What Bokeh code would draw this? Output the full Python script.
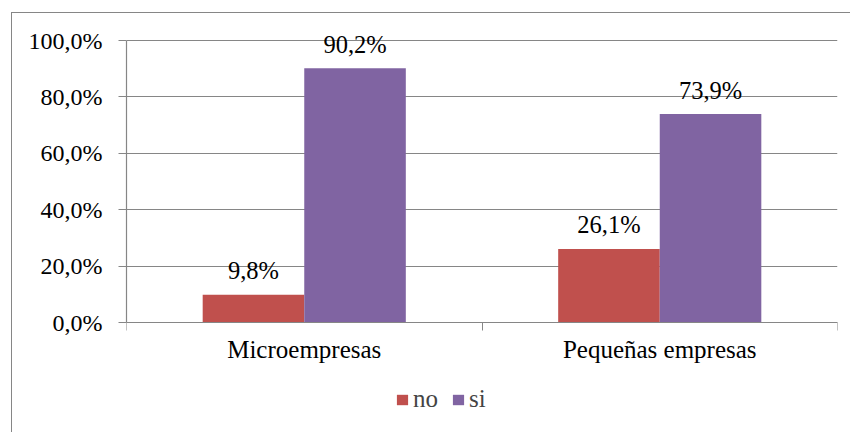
from bokeh.plotting import figure
from bokeh.models import (ColumnDataSource, FixedTicker, Legend, LegendItem,
                          Range1d, InlineStyleSheet)
from bokeh.core.properties import value
from bokeh.embed import file_html
from bokeh.resources import INLINE

categories = ["Microempresas", "Pequeñas empresas"]
series_names = ["no", "si"]
no_values = [9.8, 26.1]
si_values = [90.2, 73.9]
colors = ["#C0504D", "#8064A2"]
y_ticks = [0, 20, 40, 60, 80, 100]
y_labels = ["0,0%", "20,0%", "40,0%", "60,0%", "80,0%", "100,0%"]

FONT = "Liberation Serif"
GRID = "#868686"
BAR_W = 0.2857
# the frame extends above 100 % (room for the value labels) and below 0 %
# (room for the category labels and the legend)
Y_MIN, Y_MAX = -33.33, 109.93

border_css = InlineStyleSheet(css="""
:host::after { content: ""; position: absolute; left: 11px; top: 12px; right: -20px; bottom: -20px;
  border-left: 1px solid #868686; border-top: 1px solid #868686; pointer-events: none; }
""")

p = figure(width=842, height=416, output_backend="svg", toolbar_location=None,
           x_range=Range1d(0, len(categories)), y_range=Range1d(Y_MIN, Y_MAX),
           min_border_left=126, min_border_right=5, min_border_top=12,
           min_border_bottom=0, stylesheets=[border_css])
p.outline_line_color = None
p.background_fill_color = "white"
p.border_fill_color = "white"

centers = [i + 0.5 for i in range(len(categories))]
renderers = []
for k, (name, vals, col) in enumerate(zip(series_names, [no_values, si_values], colors)):
    off = (k - 0.5) * BAR_W
    xs = [c + off for c in centers]
    src = ColumnDataSource(dict(x=xs, top=vals,
                                lab=[f"{v:.1f}".replace(".", ",") + "%" for v in vals]))
    r = p.vbar(x="x", top="top", width=BAR_W, bottom=0, source=src,
               fill_color=col, line_color=None)
    renderers.append(r)
    p.text(x="x", y="top", text="lab", source=src, text_align="center",
           text_baseline="alphabetic", y_offset=-24,
           text_font=value(FONT), text_font_size="24.5px", text_color="black")

# x axis drawn at y = 0
p.xaxis.fixed_location = 0
p.xaxis.ticker = FixedTicker(ticks=centers, minor_ticks=list(range(len(categories) + 1)))
p.xaxis.major_label_overrides = {c: n for c, n in zip(centers, categories)}
p.xaxis.major_tick_out = 0
p.xaxis.major_tick_in = 0
p.xaxis.minor_tick_out = 8
p.xaxis.minor_tick_in = 0
p.xaxis.minor_tick_line_color = GRID
p.xaxis.axis_line_color = GRID
p.xaxis.axis_line_width = 1.2
p.xaxis.major_label_standoff = 5
p.xaxis.major_label_text_font = FONT
p.xaxis.major_label_text_font_size = "25px"
p.xaxis.major_label_text_color = "black"

p.yaxis.bounds = (0, 100)
p.yaxis.ticker = FixedTicker(ticks=y_ticks, minor_ticks=[])
p.yaxis.major_label_overrides = {t: l for t, l in zip(y_ticks, y_labels)}
p.yaxis.major_tick_out = 8
p.yaxis.major_tick_in = 0
p.yaxis.major_tick_line_color = GRID
p.yaxis.minor_tick_line_color = None
p.yaxis.axis_line_color = GRID
p.yaxis.axis_line_width = 1.2
p.yaxis.major_label_standoff = 16
p.yaxis.major_label_text_font = FONT
p.yaxis.major_label_text_font_size = "24px"
p.yaxis.major_label_text_color = "black"

p.xgrid.grid_line_color = None
p.ygrid.ticker = FixedTicker(ticks=y_ticks)
p.ygrid.grid_line_color = GRID
p.ygrid.grid_line_width = 1.2

legend = Legend(items=[LegendItem(label=n, renderers=[r]) for n, r in zip(series_names, renderers)],
                orientation="horizontal", location=(269, 3),
                glyph_width=14, glyph_height=13, label_standoff=4, spacing=13,
                padding=0, margin=0, border_line_color=None, background_fill_alpha=0,
                label_text_font=FONT, label_text_font_size="25px")
p.add_layout(legend, "center")

open("out.html", "w").write(file_html(p, INLINE))
